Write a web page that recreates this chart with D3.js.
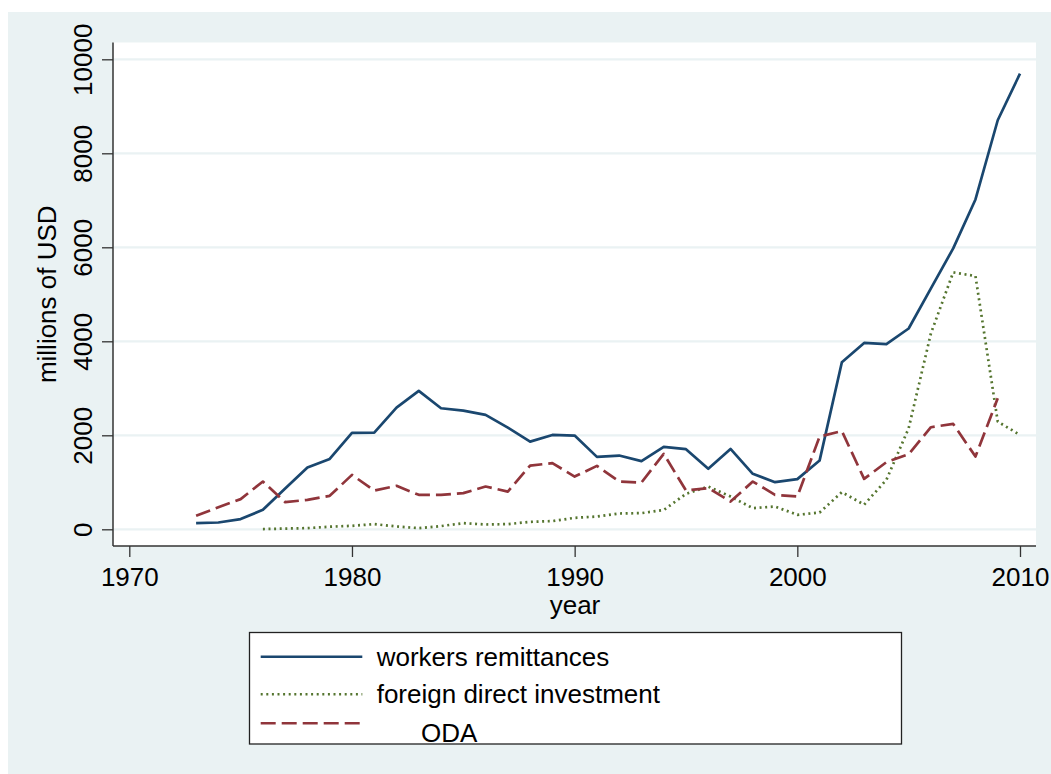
<!DOCTYPE html>
<html>
<head>
<meta charset="utf-8">
<script src="https://cdn.jsdelivr.net/npm/d3@7"></script>
<style>
  html, body { margin: 0; padding: 0; background: #ffffff; }
  svg { display: block; }
  text { font-family: "Liberation Sans", Arial, sans-serif; fill: #000; }
</style>
</head>
<body>
<svg id="chart" width="1051" height="774"></svg>
<script>
// ---- data ----
const years = [1973,1974,1975,1976,1977,1978,1979,1980,1981,1982,1983,1984,1985,1986,1987,1988,1989,1990,1991,1992,1993,1994,1995,1996,1997,1998,1999,2000,2001,2002,2003,2004,2005,2006,2007,2008,2009,2010];
const remittances = [130,145,217,414,868,1314,1498,2051,2058,2590,2944,2576,2525,2433,2164,1866,2008,1994,1541,1569,1450,1753,1705,1286,1711,1180,1003,1067,1462,3554,3965,3940,4272,5126,5977,7018,8703,9696];
const fdi = [null,null,null,5,15,25,55,74,110,60,25,68,131,102,110,159,174,244,272,336,344,410,754,910,697,450,485,308,357,791,524,1052,2150,4170,5466,5388,2291,2008];
const oda = [287,470,642,1016,578,627,712,1158,825,925,733,733,769,910,803,1356,1407,1122,1350,1016,995,1605,825,876,591,1016,733,697,1972,2090,1073,1428,1598,2172,2242,1547,2789,null];
const xTicks = [1970,1980,1990,2000,2010];
const yTicks = [0,2000,4000,6000,8000,10000];
const seriesNames = ["workers remittances","foreign direct investment","ODA"];

// ---- layout ----
const svg = d3.select("#chart");
const bg = "#EAF2F3";
svg.append("rect").attr("x",8).attr("y",12).attr("width",1043).attr("height",762).attr("fill",bg);

const plot = {left:113, right:1036, top:42.5, bottom:546};
svg.append("rect").attr("x",plot.left).attr("y",plot.top)
  .attr("width",plot.right-plot.left).attr("height",plot.bottom-plot.top).attr("fill","#fff");

const x = d3.scaleLinear().domain([1970,2010]).range([129.3,1020]);
const y = d3.scaleLinear().domain([0,10000]).range([529.3,59.3]);

// gridlines
svg.append("g").selectAll("line").data(yTicks).join("line")
  .attr("x1",plot.left).attr("x2",plot.right)
  .attr("y1",d=>y(d)).attr("y2",d=>y(d))
  .attr("stroke",bg).attr("stroke-width",2.2);

// axes
const yAxis = d3.axisLeft(y).tickValues(yTicks).tickSize(11).tickPadding(10).tickFormat(d3.format("d"));
const gy = svg.append("g").attr("transform",`translate(${plot.left},0)`).call(yAxis);
gy.select(".domain").remove();
gy.selectAll(".tick line").attr("stroke","#333").attr("stroke-width",1.3);
gy.selectAll(".tick text")
  .attr("font-size",26).attr("fill","#000")
  .attr("transform","rotate(-90)")
  .attr("x",0).attr("y",-21).attr("dy",0)
  .attr("text-anchor","middle");

const xAxis = d3.axisBottom(x).tickValues(xTicks).tickSize(11).tickPadding(12).tickFormat(d3.format("d"));
const gx = svg.append("g").attr("transform",`translate(0,${plot.bottom})`).call(xAxis);
gx.select(".domain").remove();
gx.selectAll(".tick line").attr("stroke","#333").attr("stroke-width",1.3);
gx.selectAll(".tick text").attr("font-size",26).attr("fill","#000").attr("dy","0.71em").attr("y",22);

// axis lines
svg.append("line").attr("x1",plot.left).attr("x2",plot.left).attr("y1",plot.top).attr("y2",plot.bottom)
  .attr("stroke","#333").attr("stroke-width",1.5);
svg.append("line").attr("x1",plot.left).attr("x2",plot.right).attr("y1",plot.bottom).attr("y2",plot.bottom)
  .attr("stroke","#333").attr("stroke-width",1.5);

// axis titles
svg.append("text").attr("transform",`translate(56,${(plot.top+plot.bottom)/2}) rotate(-90)`)
  .attr("text-anchor","middle").attr("font-size",26).text("millions of USD");
svg.append("text").attr("x",575).attr("y",614).attr("text-anchor","middle").attr("font-size",26).text("year");

// lines
const colors = ["#1a476f","#55752f","#90353b"];
const dashes = [null,"2,3.6","15,6"];
const data = [remittances,fdi,oda];
const line = d3.line().defined(d=>d[1]!=null).x(d=>x(d[0])).y(d=>y(d[1]));
data.forEach((vals,i)=>{
  svg.append("path")
    .datum(years.map((yr,j)=>[yr,vals[j]]))
    .attr("d",line).attr("fill","none")
    .attr("stroke",colors[i]).attr("stroke-width",2.7)
    .attr("stroke-dasharray",dashes[i])
    .attr("stroke-linejoin","round");
});

// legend
svg.append("rect").attr("x",249.5).attr("y",632.5).attr("width",652).attr("height",111.5)
  .attr("fill","#fff").attr("stroke","#222").attr("stroke-width",1.3);
const legY = [656.7,694.3,723.3];
const legTextY = [665.7,703.3,742];
const legTextX = [376.7,376.7,421];
seriesNames.forEach((name,i)=>{
  svg.append("line").attr("x1",260.7).attr("x2",362.3).attr("y1",legY[i]).attr("y2",legY[i])
    .attr("stroke",colors[i]).attr("stroke-width",2.6).attr("stroke-dasharray",dashes[i]);
  svg.append("text").attr("x",legTextX[i]).attr("y",legTextY[i]).attr("font-size",26).text(name);
});
</script>
</body>
</html>
